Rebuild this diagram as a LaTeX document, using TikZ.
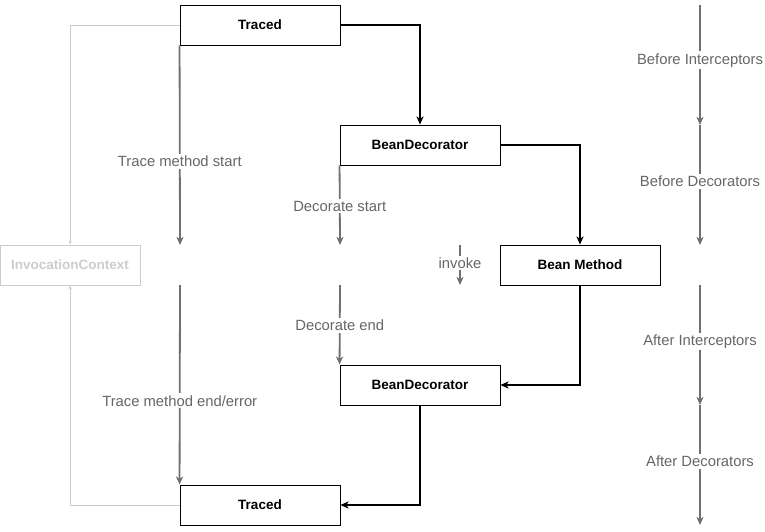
\documentclass[tikz,border=0pt]{standalone}
\usepackage{fontspec}
\setmainfont{Liberation Sans}
\usetikzlibrary{arrows.meta}
\definecolor{phasegray}{HTML}{707070}
\definecolor{labelgray}{HTML}{666666}
\definecolor{faintgray}{HTML}{CCCCCC}
\begin{document}
\begin{tikzpicture}[x=1pt,y=-1pt,
    box/.style={draw, line width=0.9pt, minimum width=160pt, minimum height=40pt,
        inner sep=0pt, font=\bfseries\fontsize{13.5}{15}\selectfont},
    ghost/.style={draw=faintgray, text=faintgray, line width=0.9pt, minimum width=140pt,
        minimum height=40pt, inner sep=0pt, font=\bfseries\fontsize{13.5}{15}\selectfont},
    flow/.style={line width=1.8pt, -{Stealth[length=8pt,width=7pt,inset=2pt]}},
    phase/.style={draw=phasegray, line width=1.8pt, -{Stealth[length=8pt,width=7pt,inset=2pt]}},
    faint/.style={draw=faintgray, line width=0.9pt, -{Stealth[length=4pt,width=3.5pt]}},
    lbl/.style={fill=white, text=labelgray, inner sep=2pt, font=\fontsize{14.8}{16}\selectfont}]
    \useasboundingbox (0,0) rectangle (765,531);

    \node[box] (tracedIn) at (260,25) {Traced};
    \node[box] (decoIn) at (420,145) {BeanDecorator};
    \node[box] (bean) at (580,265) {Bean Method};
    \node[box] (decoOut) at (420,385) {BeanDecorator};
    \node[box] (tracedOut) at (260,505) {Traced};
    \node[ghost] (ctx) at (70,265) {InvocationContext};

    % free ends of the phase arrows
    \coordinate (traceStop) at (180,245);
    \coordinate (traceResume) at (180,285);
    \coordinate (decoStop) at (340,245);
    \coordinate (decoResume) at (340,285);
    \coordinate (invokeTop) at (460,245);
    \coordinate (invokeBot) at (460,285);
    \coordinate (r0) at (700,5);
    \coordinate (r1) at (700,125);
    \coordinate (r2) at (700,245);
    \coordinate (r3) at (700,285);
    \coordinate (r4) at (700,405);
    \coordinate (r5) at (700,525);

    \draw[flow] (tracedIn.east) -| (decoIn.north);
    \draw[flow] (decoIn.east) -| (bean.north);
    \draw[flow] (bean.south) |- (decoOut.east);
    \draw[flow] (decoOut.south) |- (tracedOut.east);

    \draw[faint] (tracedIn.west) -| (ctx.north);
    \draw[faint] (tracedOut.west) -| (ctx.south);

    \draw[phase] (tracedIn.south west) -- node[lbl, pos=0.58] {Trace method start} (traceStop);
    \draw[phase] (traceResume) -- node[lbl, pos=0.58] {Trace method end/error} (tracedOut.north west);
    \draw[phase] (decoIn.south west) -- node[lbl, pos=0.51] {Decorate start} (decoStop);
    \draw[phase] (decoResume) -- node[lbl, pos=0.51] {Decorate end} (decoOut.north west);
    \draw[phase, line width=1.4pt] (invokeTop) -- node[lbl, pos=0.45] {invoke} (invokeBot);

    \draw[phase] (r0) -- node[lbl, pos=0.46] {Before Interceptors} (r1);
    \draw[phase] (r1) -- node[lbl, pos=0.47] {Before Decorators} (r2);
    \draw[phase] (r3) -- node[lbl, pos=0.47] {After Interceptors} (r4);
    \draw[phase] (r4) -- node[lbl, pos=0.47] {After Decorators} (r5);
\end{tikzpicture}
\end{document}
